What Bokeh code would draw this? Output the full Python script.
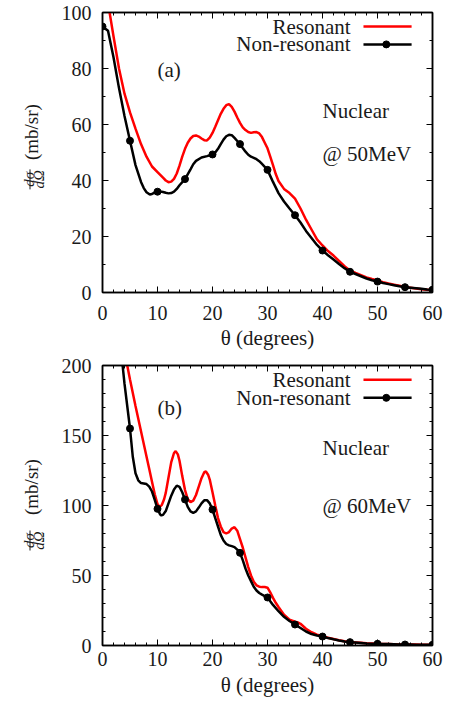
import numpy as np
from bokeh.plotting import figure
from bokeh.models import Label, LinearAxis, FixedTicker, CustomJSTickFormatter, Range1d
from bokeh.layouts import column, row
from bokeh.embed import file_html
from bokeh.resources import INLINE

# ---------------- data ----------------
# (a) 50 MeV
theta_a_nr = [0, 1, 2, 2.5, 3, 4, 5, 6, 7, 7.5, 8, 8.6, 9, 9.5, 10, 10.5, 11, 11.5, 12, 12.5, 13, 13.5, 14, 15, 16, 16.5,
              17, 18, 19, 20, 20.5, 21, 21.5, 22, 22.5, 23, 23.5, 24, 24.5, 25, 25.5, 26, 26.5, 27, 27.5, 28,
              28.5, 29, 29.5, 30, 31, 32, 33, 34, 35, 36, 37, 38, 39, 40,
              41, 42, 43, 44, 45, 46, 47, 48, 49, 50, 51, 52, 53, 54, 55, 56, 57, 58, 59, 60]
nonres_a = [95, 93.5, 84, 78.5, 73, 63, 54.2, 45.5, 39.5, 37.3, 35.8, 35, 35.2, 35.7, 36, 36.1, 35.9, 35.6, 35.4, 35.5, 36, 37, 38.3, 40.5, 44, 45.8,
            47, 48.2, 48.7, 49.3, 50, 51.3, 53, 54.6, 55.8, 56.3, 56.2, 55.2, 54.1, 53, 51.6, 50.3, 49.2, 48.5, 48.1, 47.6,
            46.9, 45.9, 44.9, 43.8, 39.5, 35.5, 32.5, 30, 27.6, 25, 22, 19.5, 17, 15,
            13.3, 11.8, 10.2, 8.7, 7.4, 6.6, 5.8, 5, 4.4, 3.9, 3.4, 3, 2.6, 2.2, 1.9, 1.7, 1.5, 1.3, 1.1, 1.0]
theta_a_r = [0, 1, 2, 3, 4, 5, 6, 7, 8, 9, 10, 11, 11.5, 12, 12.5, 13, 13.5, 14, 14.5, 15, 15.5, 16, 16.5, 17, 17.5,
             18, 18.5, 19, 19.5, 20, 20.5, 21, 21.5, 22, 22.5, 23, 23.5, 24, 24.5, 25, 25.5, 26, 26.5, 27, 27.5,
             28, 28.5, 29, 29.5, 30, 30.5, 31, 31.5, 32, 33, 34, 35, 36, 37, 38, 39, 40,
             41, 42, 43, 44, 45, 46, 47, 48, 49, 50, 51, 52, 53, 54, 55, 56, 57, 58, 59, 60]
res_a = [116, 103.5, 91.5, 80, 71, 64.3, 58.5, 53, 48.5, 45, 43, 41, 40, 39.4, 39.6, 40.6, 42.5, 45.3, 48.5, 51.3, 53.5, 55, 55.9, 56.1, 55.7,
         55, 54.4, 54.3, 55.3, 57, 59.2, 61.5, 63.8, 65.6, 66.9, 67.3, 66.3, 64.6, 62.5, 60.6, 59, 58, 57.3, 57, 57.2,
         57.3, 56.8, 55.5, 53.5, 51.5, 48.5, 45.5, 42.3, 39.8, 37, 35.5, 33.5, 30, 26, 22.5, 19, 16.8,
         14.8, 13.2, 11.3, 9.4, 7.9, 7, 6.2, 5.4, 4.8, 4.3, 3.7, 3.2, 2.8, 2.4, 2.0, 1.7, 1.4, 1.2, 1.0, 0.8]

# (b) 60 MeV
theta_b_nr = [0, 1, 2, 3, 4, 5, 5.5, 6, 6.5, 7, 7.5, 8, 8.5, 9, 9.5, 10, 10.5, 10.7, 11, 11.5, 12, 12.5, 13, 13.5, 14,
              14.5, 15, 15.5, 16, 16.5, 17, 17.5, 18, 18.5, 19, 19.5, 20, 20.5, 21, 21.5, 22, 22.5, 23, 23.5, 24,
              24.5, 25, 25.5, 26, 26.5, 27, 27.5, 28, 28.5, 29, 29.5, 30, 31, 32, 33, 34, 35, 36, 37, 38, 39, 40,
              41, 42, 43, 44, 45, 46, 47, 48, 49, 50, 51, 52, 53, 54, 55, 56, 57, 58, 59, 60]
nonres_b = [340, 300, 265, 225, 187, 155, 135, 123, 118, 116, 115.7, 115.3, 113.5, 110, 104, 97.6, 93.5, 92.9, 93.3, 96, 101.5, 107, 111.5, 114.2, 113.3,
            109.5, 104.3, 99, 95.8, 94.8, 95.8, 98.5, 101.5, 103.7, 103.8, 101.5, 97.1, 91, 85, 79, 75, 72.5, 71.5, 71, 70.3,
            68.5, 66.2, 61, 55, 50, 46, 42, 39.3, 37.5, 36.3, 35.3, 34.3, 29, 24.5, 20.5, 17.5, 15, 12.5, 10, 8.2, 7.1, 6.4,
            5.3, 4.4, 3.6, 2.9, 2.4, 2.1, 1.8, 1.5, 1.3, 1.2, 1.1, 1.0, 0.9, 0.8, 0.7, 0.65, 0.6, 0.55, 0.5, 0.5]
theta_b_r = [0, 1, 2, 3, 4, 5, 6, 7, 8, 8.5, 9, 9.5, 10, 10.4, 10.8, 11.2, 11.5, 12, 12.5, 13, 13.3, 13.7, 14, 14.5, 15,
             15.5, 16, 16.5, 17, 17.5, 18, 18.5, 18.8, 19.2, 19.5, 20, 20.5, 21, 21.5, 22, 22.5, 23, 23.5, 24, 24.5,
             25, 25.5, 26, 26.5, 27, 27.5, 28, 28.5, 29, 29.5, 30, 30.5, 31, 31.5, 32, 33, 34, 35, 35.5, 36, 37, 38, 39, 40,
             41, 42, 43, 44, 45, 46, 47, 48, 49, 50, 51, 52, 53, 54, 55, 56, 57, 58, 59, 60]
res_b = [300, 276, 253, 230, 210, 190, 171, 153, 135, 126, 117, 108, 101, 99, 100.5, 104.5, 109, 120, 131, 137.5, 138.8, 136.5, 132, 121, 111,
         104.5, 102.4, 103.5, 107.5, 113.5, 119.5, 123.8, 124.3, 122, 118.5, 109.5, 100, 91, 85, 81, 80, 81, 83.5, 84.5, 82,
         76, 70, 63, 56, 50, 45.5, 43, 42, 41.7, 41.8, 41.3, 38, 34, 30.5, 27.5, 22, 18.5, 17, 16.5, 15.5, 12, 9.5, 7.8, 6.7,
         5.5, 4.7, 3.8, 3.0, 2.5, 2.2, 1.9, 1.6, 1.4, 1.2, 1.1, 1.0, 0.9, 0.8, 0.75, 0.7, 0.65, 0.6, 0.55, 0.5]

x_ticks = [0, 10, 20, 30, 40, 50, 60]
y_ticks_a = [0, 20, 40, 60, 80, 100]
y_ticks_b = [0, 50, 100, 150, 200]
legend_labels = ["Resonant", "Non-resonant"]
panel_tags = ["(a)", "(b)"]
energy_labels = ["@ 50MeV", "@ 60MeV"]
x_title = "θ (degrees)"
y_unit = "(mb/sr)"
y_num, y_den = "dσ", "dΩ"

# ---------------- style ----------------
FONT = "Liberation Serif"
RED = "#ff0000"
TXT = "#1a1a1a"
FS_TICK = "20px"
FS = "21px"
LABW = 50          # width of the strip holding the rotated y label
FRAME_H = 280


def style_axis(ax, ticks, minor, standoff, show=True):
    ax.ticker = FixedTicker(ticks=ticks, minor_ticks=minor)
    ax.major_tick_in = 6
    ax.major_tick_out = 0
    ax.minor_tick_in = 3
    ax.minor_tick_out = 0
    ax.axis_line_color = "black"
    ax.axis_line_width = 1.5
    ax.major_tick_line_color = "black"
    ax.minor_tick_line_color = "black"
    ax.major_tick_line_width = 1
    ax.minor_tick_line_width = 1
    ax.major_label_standoff = standoff
    if show:
        ax.major_label_text_font = FONT
        ax.major_label_text_font_size = FS_TICK
        ax.major_label_text_color = TXT
    else:
        ax.formatter = CustomJSTickFormatter(code="return ''")
        ax.major_label_text_font_size = "1px"


def ylabel_strip(height, ymax, bt, bb, unit_y, frac_y):
    # strip sharing the panel's vertical frame (0..ymax) so the label sits at data heights
    s = figure(width=LABW, height=height, output_backend="svg", toolbar_location=None, title=None,
               x_range=Range1d(0, LABW), y_range=Range1d(0, ymax),
               x_axis_type=None, y_axis_type=None,
               min_border_left=0, min_border_right=0, min_border_top=bt, min_border_bottom=bb)
    s.outline_line_color = None
    s.xgrid.visible = False
    s.ygrid.visible = False
    half_bar = 10 * ymax / FRAME_H
    s.add_layout(Label(x=30.5, y=unit_y, text=y_unit, angle=np.pi / 2, text_align="center",
                       text_baseline="middle", text_font=FONT, text_font_size="19px", text_color=TXT))
    s.add_layout(Label(x=28.5, y=frac_y, text=y_num, angle=np.pi / 2, text_align="center",
                       text_baseline="alphabetic", text_font=FONT, text_font_size="15px",
                       text_font_style="italic", text_color=TXT))
    s.add_layout(Label(x=30.3, y=frac_y, text=y_den, angle=np.pi / 2, text_align="center",
                       text_baseline="top", text_font=FONT, text_font_size="15px",
                       text_font_style="italic", text_color=TXT))
    s.segment(x0=[29.5], y0=[frac_y - half_bar], x1=[29.5], y1=[frac_y + half_bar], line_color=TXT, line_width=1)
    return s


def make_panel(th_r, res, th_nr, nonres, ymax, yticks, yminor, height, bt, bb,
               xstd, xlab_std, tag, energy, tag_pos, nuc_y, en_y, leg_y):
    p = figure(width=445 - LABW, height=height, output_backend="svg", toolbar_location=None,
               x_range=Range1d(0, 60), y_range=Range1d(0, ymax),
               min_border_left=102 - LABW, min_border_right=13, min_border_top=bt, min_border_bottom=bb)
    p.background_fill_color = "white"
    p.border_fill_color = "white"
    p.outline_line_color = "black"
    p.outline_line_width = 1.5
    p.xgrid.visible = False
    p.ygrid.visible = False

    xminor = list(np.arange(0, 61, 2))
    style_axis(p.xaxis[0], x_ticks, xminor, xstd)
    style_axis(p.yaxis[0], yticks, yminor, 11)
    p.xaxis[0].axis_label = x_title
    p.xaxis[0].axis_label_text_font = FONT
    p.xaxis[0].axis_label_text_font_size = FS
    p.xaxis[0].axis_label_text_font_style = "normal"
    p.xaxis[0].axis_label_text_color = TXT
    p.xaxis[0].axis_label_standoff = xlab_std

    top_ax = LinearAxis()
    style_axis(top_ax, x_ticks, xminor, 0, show=False)
    p.add_layout(top_ax, "above")
    right_ax = LinearAxis()
    style_axis(right_ax, yticks, yminor, 0, show=False)
    p.add_layout(right_ax, "right")

    # curves
    p.line(th_r, res, line_color=RED, line_width=2.5)
    p.line(th_nr, nonres, line_color="black", line_width=2.5)
    th_nr_a = np.array(th_nr, dtype=float)
    nr_a = np.array(nonres, dtype=float)
    mk = np.isclose(np.mod(th_nr_a, 5), 0)
    p.scatter(th_nr_a[mk], nr_a[mk], marker="circle", size=7, fill_color="black", line_color="black")

    # legend (gnuplot style: text then sample)
    lx_text, lx0, lx1, lxm = 45.1, 47.45, 56.2, 51.6
    for lab, ly in zip(legend_labels, leg_y):
        p.add_layout(Label(x=lx_text, y=ly, text=lab, text_align="right", text_baseline="middle",
                           text_font=FONT, text_font_size=FS, text_color=TXT))
    p.segment(x0=[lx0], y0=[leg_y[0]], x1=[lx1], y1=[leg_y[0]], line_color=RED, line_width=2.5)
    p.segment(x0=[lx0], y0=[leg_y[1]], x1=[lx1], y1=[leg_y[1]], line_color="black", line_width=2.5)
    p.scatter([lxm], [leg_y[1]], marker="circle", size=7, fill_color="black", line_color="black")

    # annotations
    p.add_layout(Label(x=tag_pos[0], y=tag_pos[1], text=tag, text_align="left", text_baseline="middle",
                       text_font=FONT, text_font_size=FS, text_color=TXT))
    p.add_layout(Label(x=40, y=nuc_y, text="Nuclear", text_align="left", text_baseline="middle",
                       text_font=FONT, text_font_size=FS, text_color=TXT))
    p.add_layout(Label(x=40, y=en_y, text=energy, text_align="left", text_baseline="middle",
                       text_font=FONT, text_font_size=FS, text_color=TXT))
    return p


H1, H2 = 355, 347
p1 = make_panel(theta_a_r, res_a, theta_a_nr, nonres_a, 100, y_ticks_a, list(range(0, 101, 10)),
                H1, 12, 63, 13, 3, panel_tags[0], energy_labels[0], (10, 79.3), 65, 49.6, (95, 88.6))
p2 = make_panel(theta_b_r, res_b, theta_b_nr, nonres_b, 200, y_ticks_b, list(range(0, 201, 10)),
                H2, 10, 57, 6, 4, panel_tags[1], energy_labels[1], (10, 170), 141.4, 100, (189.8, 176.9))
s1 = ylabel_strip(H1, 100, 12, 63, 57.3, 40.4)
s2 = ylabel_strip(H2, 200, 10, 57, 113.2, 75)

layout = column(row(s1, p1), row(s2, p2))
open("out.html", "w").write(file_html(layout, INLINE))
